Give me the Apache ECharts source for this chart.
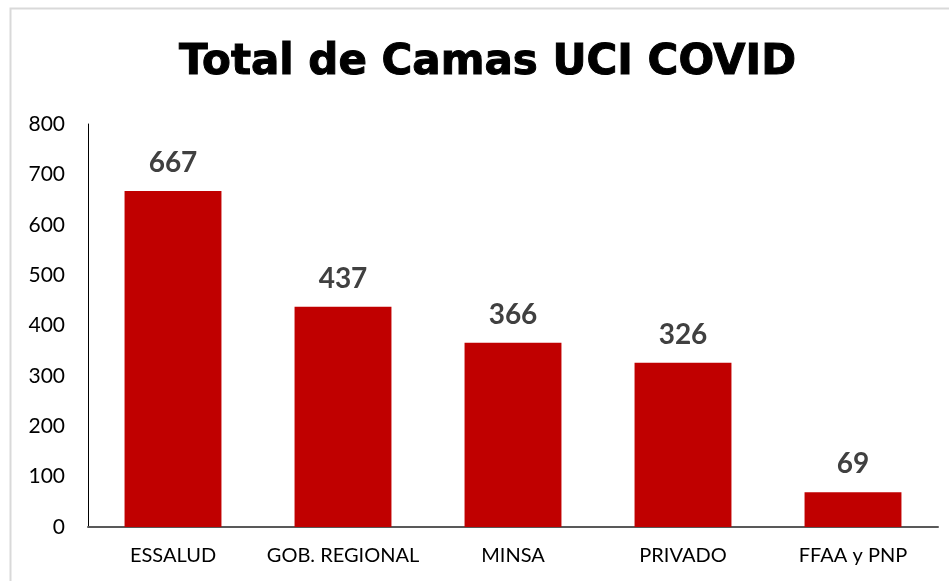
<!DOCTYPE html>
<html>
<head>
<meta charset="utf-8">
<script src="https://cdn.jsdelivr.net/npm/echarts@6/dist/echarts.min.js"></script>
<style>
  html, body { margin: 0; padding: 0; background: #fff; }
  #chart { width: 949px; height: 581px; }
</style>
</head>
<body>
<div id="chart"></div>
<script>
var categories = ['ESSALUD', 'GOB. REGIONAL', 'MINSA', 'PRIVADO', 'FFAA y PNP'];
var camas = [667, 437, 366, 326, 69];

var myChart = echarts.init(document.getElementById('chart'));
var option = {
    backgroundColor: '#fff',
    animation: false,
    title: {
        text: 'Total de Camas UCI COVID',
        left: 174,
        top: 37,
        textStyle: {
            fontFamily: 'DejaVu Sans',
            fontWeight: 'bold',
            fontSize: 42,
            color: '#000',
            textBorderColor: '#000',
            textBorderWidth: 1
        }
    },
    graphic: [{
        type: 'rect',
        shape: { x: 10.5, y: 8.5, width: 960, height: 600 },
        style: { fill: 'none', stroke: '#d9d9d9', lineWidth: 2 },
        silent: true
    }],
    grid: { left: 88, right: 11, top: 124, bottom: 54 },
    xAxis: {
        type: 'category',
        data: categories,
        axisTick: { show: false },
        axisLine: { lineStyle: { color: '#595959', width: 2 } },
        axisLabel: { interval: 0, color: '#000', fontFamily: 'Lato', fontSize: 20, margin: 19 }
    },
    yAxis: {
        type: 'value',
        min: 0,
        max: 800,
        interval: 100,
        splitLine: { show: false },
        axisTick: { show: false },
        axisLine: { show: true, lineStyle: { color: '#000', width: 1 } },
        axisLabel: { color: '#000', fontFamily: 'Lato', fontSize: 21, margin: 23 }
    },
    series: [{
        type: 'bar',
        data: camas,
        barWidth: '57%',
        itemStyle: { color: '#c00000' },
        label: {
            show: true,
            position: 'top',
            distance: 14,
            color: '#404040',
            fontFamily: 'Lato',
            fontWeight: 'bold',
            fontSize: 28
        }
    }]
};
myChart.setOption(option);
window.addEventListener('resize', function () {
    myChart.resize();
});
</script>
</body>
</html>
